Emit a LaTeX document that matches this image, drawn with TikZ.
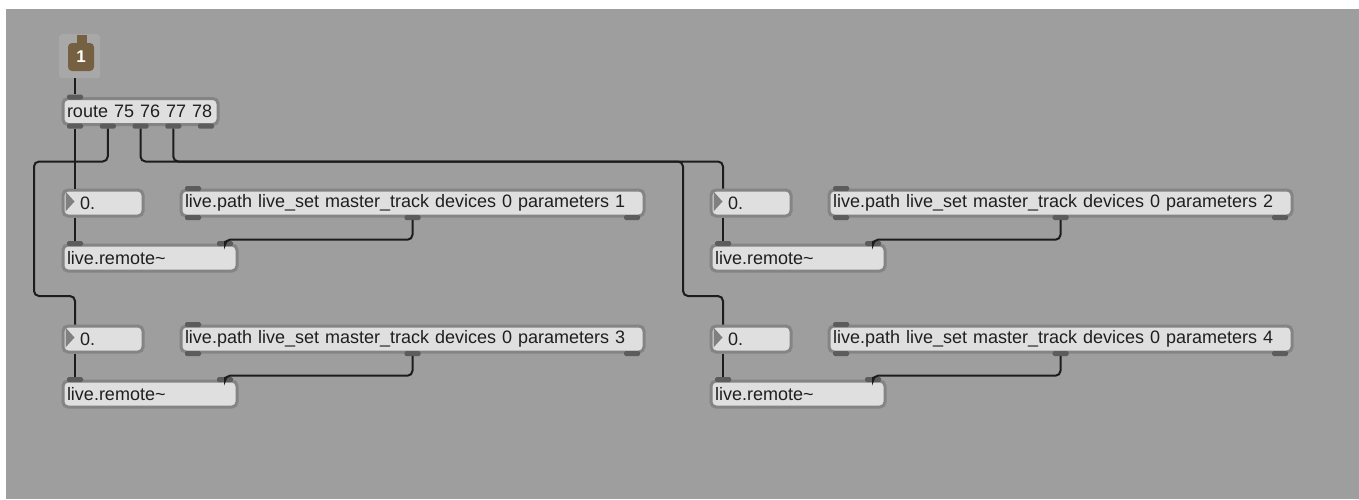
\documentclass[tikz,border=0pt]{standalone}
\usepackage{fontspec}
\newfontfamily\maxfont{Liberation Sans}
\usetikzlibrary{calc}
\definecolor{patchbg}{RGB}{158,158,158}
\definecolor{halocolor}{RGB}{168,168,168}
\definecolor{inletcolor}{RGB}{117,96,66}
\definecolor{boxfill}{RGB}{223,223,223}
\definecolor{boxline}{RGB}{132,132,132}
\definecolor{tabcolor}{RGB}{92,92,92}
\definecolor{cordcolor}{RGB}{28,28,28}
\definecolor{tricolor}{RGB}{128,128,128}

\begin{document}
\begin{tikzpicture}[x=1pt,y=-1pt,
    maxbox/.style={draw=boxline, line width=3pt, fill=boxfill, rounded corners=5pt,
      anchor=north west, minimum height=26pt, inner xsep=4pt, inner ysep=0pt,
      text width=#1, align=left, text=black!88, font=\maxfont\fontsize{18}{20}\selectfont},
    porttab/.style={fill=tabcolor, rounded corners=1.5pt, minimum width=16pt,
      minimum height=5pt, inner sep=0pt},
    cord/.style={draw=cordcolor, line width=2pt, rounded corners=5pt}]
    \useasboundingbox (0,0) rectangle (1359,499);
    \fill[white] (0,0) rectangle (1359,499);
    \fill[patchbg] (6,9) rectangle (1359,499);
    % inlet 1
    \node[fill=halocolor, rounded corners=3pt, minimum width=41pt, minimum height=44pt,
      inner sep=0pt, anchor=north west] (inlet) at (59,34) {};
    \fill[inletcolor] (76.5,35) rectangle (86.5,46);
    \node[fill=inletcolor, rounded corners=4pt, minimum width=26pt, minimum height=28pt,
      inner sep=0pt, text=white, font=\maxfont\bfseries\fontsize{17}{18}\selectfont]
      (inletnum) at (81,57) {1};
    \coordinate (inlet-out) at ($(inlet.south west)+(16,0)$);
    % route
    \node[maxbox=147pt] (route) at (61.5,97) {route 75 76 77 78};
    \node[porttab] (route-in) at ($(route.north west)+(13.5,0)$) {};
    \node[porttab] (route-o1) at ($(route.south west)+(13.5,0)$) {};
    \node[porttab] (route-o5) at ($(route.south east)+(-13.5,0)$) {};
    \node[porttab] (route-o2) at ($(route-o1)!0.25!(route-o5)$) {};
    \node[porttab] (route-o3) at ($(route-o1)!0.5!(route-o5)$) {};
    \node[porttab] (route-o4) at ($(route-o1)!0.75!(route-o5)$) {};
    % parameter 1
    \begin{scope}[shift={(0,0)}]
      \node[maxbox=72pt] (num1) at (61.5,188.5) {\hspace*{13pt}0.};
      \fill[tricolor] ($(num1.north west)+(4,3)$) -- ++(9,10) -- ++(-9,10) -- cycle;
      \coordinate (num1-in) at ($(num1.north west)+(13.5,0)$);
      \coordinate (num1-out) at ($(num1.south west)+(13.5,0)$);
      \node[maxbox=455pt] (path1) at (179.5,188.5) {live.path live\_set master\_track devices 0 parameters 1};
      \node[porttab] (path1-in) at ($(path1.north west)+(13.5,0)$) {};
      \node[porttab] (path1-o1) at ($(path1.south west)+(13.5,0)$) {};
      \node[porttab] (path1-o2) at (path1.south) {};
      \node[porttab] (path1-o3) at ($(path1.south east)+(-13.5,0)$) {};
      \node[maxbox=166pt] (remote1) at (61.5,243.5) {live.remote\string~};
      \node[porttab] (remote1-i1) at ($(remote1.north west)+(13.5,0)$) {};
      \node[porttab] (remote1-i2) at ($(remote1.north east)+(-13.5,0)$) {};
      \draw[cord] (num1-out) -- (remote1-i1.north);
      \draw[cord] (path1-o2.south) -- ++(0,19.5) -| (remote1-i2.north);
    \end{scope}
    % parameter 2
    \begin{scope}[shift={(648,0)}]
      \node[maxbox=72pt] (num2) at (61.5,188.5) {\hspace*{13pt}0.};
      \fill[tricolor] ($(num2.north west)+(4,3)$) -- ++(9,10) -- ++(-9,10) -- cycle;
      \coordinate (num2-in) at ($(num2.north west)+(13.5,0)$);
      \coordinate (num2-out) at ($(num2.south west)+(13.5,0)$);
      \node[maxbox=455pt] (path2) at (179.5,188.5) {live.path live\_set master\_track devices 0 parameters 2};
      \node[porttab] (path2-in) at ($(path2.north west)+(13.5,0)$) {};
      \node[porttab] (path2-o1) at ($(path2.south west)+(13.5,0)$) {};
      \node[porttab] (path2-o2) at (path2.south) {};
      \node[porttab] (path2-o3) at ($(path2.south east)+(-13.5,0)$) {};
      \node[maxbox=166pt] (remote2) at (61.5,243.5) {live.remote\string~};
      \node[porttab] (remote2-i1) at ($(remote2.north west)+(13.5,0)$) {};
      \node[porttab] (remote2-i2) at ($(remote2.north east)+(-13.5,0)$) {};
      \draw[cord] (num2-out) -- (remote2-i1.north);
      \draw[cord] (path2-o2.south) -- ++(0,19.5) -| (remote2-i2.north);
    \end{scope}
    % parameter 3
    \begin{scope}[shift={(0,136)}]
      \node[maxbox=72pt] (num3) at (61.5,188.5) {\hspace*{13pt}0.};
      \fill[tricolor] ($(num3.north west)+(4,3)$) -- ++(9,10) -- ++(-9,10) -- cycle;
      \coordinate (num3-in) at ($(num3.north west)+(13.5,0)$);
      \coordinate (num3-out) at ($(num3.south west)+(13.5,0)$);
      \node[maxbox=455pt] (path3) at (179.5,188.5) {live.path live\_set master\_track devices 0 parameters 3};
      \node[porttab] (path3-in) at ($(path3.north west)+(13.5,0)$) {};
      \node[porttab] (path3-o1) at ($(path3.south west)+(13.5,0)$) {};
      \node[porttab] (path3-o2) at (path3.south) {};
      \node[porttab] (path3-o3) at ($(path3.south east)+(-13.5,0)$) {};
      \node[maxbox=166pt] (remote3) at (61.5,243.5) {live.remote\string~};
      \node[porttab] (remote3-i1) at ($(remote3.north west)+(13.5,0)$) {};
      \node[porttab] (remote3-i2) at ($(remote3.north east)+(-13.5,0)$) {};
      \draw[cord] (num3-out) -- (remote3-i1.north);
      \draw[cord] (path3-o2.south) -- ++(0,19.5) -| (remote3-i2.north);
    \end{scope}
    % parameter 4
    \begin{scope}[shift={(648,136)}]
      \node[maxbox=72pt] (num4) at (61.5,188.5) {\hspace*{13pt}0.};
      \fill[tricolor] ($(num4.north west)+(4,3)$) -- ++(9,10) -- ++(-9,10) -- cycle;
      \coordinate (num4-in) at ($(num4.north west)+(13.5,0)$);
      \coordinate (num4-out) at ($(num4.south west)+(13.5,0)$);
      \node[maxbox=455pt] (path4) at (179.5,188.5) {live.path live\_set master\_track devices 0 parameters 4};
      \node[porttab] (path4-in) at ($(path4.north west)+(13.5,0)$) {};
      \node[porttab] (path4-o1) at ($(path4.south west)+(13.5,0)$) {};
      \node[porttab] (path4-o2) at (path4.south) {};
      \node[porttab] (path4-o3) at ($(path4.south east)+(-13.5,0)$) {};
      \node[maxbox=166pt] (remote4) at (61.5,243.5) {live.remote\string~};
      \node[porttab] (remote4-i1) at ($(remote4.north west)+(13.5,0)$) {};
      \node[porttab] (remote4-i2) at ($(remote4.north east)+(-13.5,0)$) {};
      \draw[cord] (num4-out) -- (remote4-i1.north);
      \draw[cord] (path4-o2.south) -- ++(0,19.5) -| (remote4-i2.north);
    \end{scope}
    % cords from inlet and route
    \coordinate (busrow) at (0,161.5);
    \coordinate (droprow) at (0,296);
    \draw[cord] (inlet-out) -- (route-in.north);
    \draw[cord] (route-o1.south) -- (num1-in);
    \draw[cord] (route-o2.south) |- (34,161.5) |- (num3-in |- droprow) -- (num3-in);
    \draw[cord] (route-o3.south) |- (num2-in |- busrow) -- (num2-in);
    \draw[cord] (route-o4.south) |- (683,161.5) |- (num4-in |- droprow) -- (num4-in);
  \end{tikzpicture}
\end{document}
